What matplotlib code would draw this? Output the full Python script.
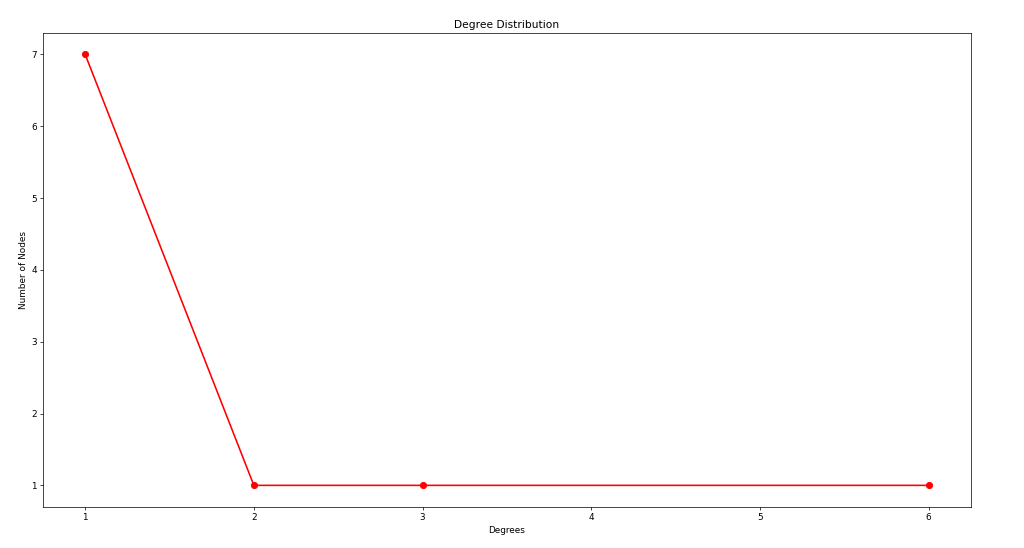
import matplotlib
matplotlib.use("Agg")
import matplotlib.pyplot as plt

degrees = [1, 2, 3, 6]
num_nodes = [7, 1, 1, 1]

# larger canvas rendered at lower dpi -> smaller text, same pixel size
fig = plt.figure(figsize=(16, 8.5625), dpi=64)
ax = fig.add_subplot(111)
fig.subplots_adjust(left=0.042, right=0.948, top=0.94, bottom=0.075)

ax.plot(degrees, num_nodes, "ro-", linewidth=1.8, markersize=7)
ax.set_title("Degree Distribution", fontsize=12)
ax.set_xlabel("Degrees")
ax.set_ylabel("Number of Nodes")

fig.savefig("out.png", dpi=64)
